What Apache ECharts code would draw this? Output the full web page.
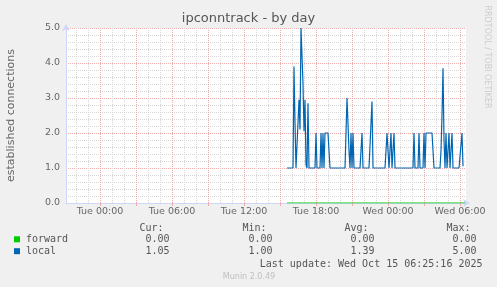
<!DOCTYPE html>
<html><head><meta charset="utf-8">
<script src="https://cdn.jsdelivr.net/npm/echarts@6/dist/echarts.min.js"></script>
<style>html,body{margin:0;padding:0;background:#f0f0f0;}#c{width:497px;height:287px;}</style>
</head><body><div id="c"></div>
<script>
// ---- data ----
const chartTitle = 'ipconntrack - by day';
const yAxisTitle = 'established connections';
const watermark = 'RRDTOOL / TOBI OETIKER';
const footer = 'Munin 2.0.49';
const lastUpdate = 'Last update: Wed Oct 15 06:25:16 2025';

// x positions are 5-minute slots counted from Tue 00:00
const xMin = -34, xMax = 366;
const xLabelSlots = [0, 72, 144, 216, 288, 360];
const xLabels = ['Tue 00:00', 'Tue 06:00', 'Tue 12:00', 'Tue 18:00', 'Wed 00:00', 'Wed 06:00'];
const majorXSlots = [0, 36, 72, 108, 144, 180, 216, 252, 288, 324, 360];
const minorXSlots = [-24, -12, 12, 24, 48, 60, 84, 96, 120, 132, 156, 168, 192, 204, 228, 240, 264, 276, 300, 312, 336, 348];
const yMin = 0, yMax = 5;

const seriesStart = 187;
const localValues = [
  1, 1, 1, 1, 1, 1, 1, 3.9, 2.3, 1, 1, 1, 2.95, 2.1, 5, 5, 3.4, 2.05, 2.95, 1.1,
  1, 2.85, 1, 1, 1, 1, 1, 1, 1, 2, 1, 1, 1, 1, 2, 1, 2, 1, 2, 2,
  2, 2, 2, 1, 1, 1, 1, 1, 1, 1, 1, 1, 1, 1, 1, 1, 1, 1, 1, 2,
  3, 3, 1.5, 1, 2, 1, 2, 1, 1, 1, 1, 1, 1, 1, 1, 2, 1, 1, 1, 1,
  1, 1, 1, 1, 1, 2.9, 1, 1, 1, 1, 1, 1, 1, 1, 1, 1, 1, 1, 1, 1,
  2, 2, 1, 1, 2, 1, 1, 2, 1, 1, 1, 1, 1, 1, 1, 1, 1, 1, 1, 1,
  1, 1, 1, 1, 1, 1, 1, 2, 1, 1, 1, 1, 2, 1, 1, 1, 1, 2, 1, 2,
  2, 2, 2, 2, 2, 2, 2, 1, 1, 1, 1, 1, 1, 1, 1.5, 2.5, 3.85, 1.8, 1, 2,
  1, 1, 2, 1, 1, 2, 1, 1, 1, 1, 1, 1, 1, 1, 1, 2, 1.05
];
const forwardValues = [
  0, 0, 0, 0, 0, 0, 0, 0, 0, 0, 0, 0, 0, 0, 0, 0, 0, 0, 0, 0,
  0, 0, 0, 0, 0, 0, 0, 0, 0, 0, 0, 0, 0, 0, 0, 0, 0, 0, 0, 0,
  0, 0, 0, 0, 0, 0, 0, 0, 0, 0, 0, 0, 0, 0, 0, 0, 0, 0, 0, 0,
  0, 0, 0, 0, 0, 0, 0, 0, 0, 0, 0, 0, 0, 0, 0, 0, 0, 0, 0, 0,
  0, 0, 0, 0, 0, 0, 0, 0, 0, 0, 0, 0, 0, 0, 0, 0, 0, 0, 0, 0,
  0, 0, 0, 0, 0, 0, 0, 0, 0, 0, 0, 0, 0, 0, 0, 0, 0, 0, 0, 0,
  0, 0, 0, 0, 0, 0, 0, 0, 0, 0, 0, 0, 0, 0, 0, 0, 0, 0, 0, 0,
  0, 0, 0, 0, 0, 0, 0, 0, 0, 0, 0, 0, 0, 0, 0, 0, 0, 0, 0, 0,
  0, 0, 0, 0, 0, 0, 0, 0, 0, 0, 0, 0, 0, 0, 0, 0, 0, 0, 0
];

const legendNames = ['forward', 'local'];
const legendColors = ['#00cc00', '#0066b3'];
const statHeaders = ['Cur:', 'Min:', 'Avg:', 'Max:'];
const curValues = ['0.00', '1.05'];
const minValues = ['0.00', '1.00'];
const avgValues = ['0.00', '1.39'];
const maxValues = ['0.00', '5.00'];

// ---- styles / layout ----
const MAJOR = '#efacac', MINOR = '#d6d6d6', AXIS = '#cfd6f8', FONT = '#666';
const mono = '"DejaVu Sans Mono", monospace';
const sans = '"DejaVu Sans", sans-serif';
const statRight = [163.5, 266.5, 368.5, 470.5];
const valRight = [169.5, 272.5, 374.5, 476.5];
const rowY = [239.3, 251.2];

const toPairs = (vals) => vals.map((v, i) => [seriesStart + i, v]);

const graphics = [
  { type: 'text', x: 248.5, y: 18.5, style: { text: chartTitle, fill: '#555', font: '13px ' + sans, align: 'center', verticalAlign: 'middle' } },
  { type: 'text', x: 11, y: 115.5, rotation: Math.PI / 2, style: { text: yAxisTitle, fill: FONT, font: '11px ' + sans, align: 'center', verticalAlign: 'middle' } },
  { type: 'text', x: 487.5, y: 57, rotation: -Math.PI / 2, style: { text: watermark, fill: '#cccccc', font: '8px ' + sans, align: 'center', verticalAlign: 'middle' } },
  { type: 'text', x: 249, y: 276.5, style: { text: footer, fill: '#c0c0c0', font: '8px ' + sans, align: 'center', verticalAlign: 'middle' } },
  { type: 'text', x: 482.5, y: 264, style: { text: lastUpdate, fill: '#555', font: '10px ' + mono, align: 'right', verticalAlign: 'middle' } }
];
statHeaders.forEach((h, i) => graphics.push({ type: 'text', x: statRight[i], y: 228.3, style: { text: h, fill: '#555', font: '10px ' + mono, align: 'right', verticalAlign: 'middle' } }));
legendNames.forEach((n, r) => {
  graphics.push({ type: 'rect', shape: { x: 14, y: rowY[r] - 3, width: 6, height: 6 }, style: { fill: legendColors[r] } });
  graphics.push({ type: 'text', x: 26, y: rowY[r], style: { text: n, fill: '#555', font: '10px ' + mono, align: 'left', verticalAlign: 'middle' } });
  [curValues, minValues, avgValues, maxValues].forEach((arr, c) => {
    graphics.push({ type: 'text', x: valRight[c], y: rowY[r], style: { text: arr[r], fill: '#555', font: '10px ' + mono, align: 'right', verticalAlign: 'middle' } });
  });
});

const gridLines = minorXSlots.map(v => ({ xAxis: v, lineStyle: { color: MINOR, type: 'dotted', width: 1 } }))
  .concat(majorXSlots.map(v => ({ xAxis: v, lineStyle: { color: MAJOR, type: 'dotted', width: 1 } })));

const chart = echarts.init(document.getElementById('c'), null, { renderer: 'canvas' });
chart.setOption({
  backgroundColor: '#f0f0f0',
  animation: false,
  grid: { left: 66, right: 31, top: 28, bottom: 84, show: true, backgroundColor: '#ffffff', borderWidth: 0, containLabel: false, outerBoundsMode: 'none' },
  xAxis: {
    type: 'value', min: xMin, max: xMax,
    axisLine: { show: true, onZero: false, lineStyle: { color: AXIS, width: 1 }, symbol: ['none', 'arrow'], symbolSize: [6, 7], symbolOffset: [0, 4] },
    axisTick: { show: true, customValues: majorXSlots, length: 3, lineStyle: { color: MAJOR } },
    axisLabel: { customValues: xLabelSlots, formatter: v => { const k = xLabelSlots.indexOf(v); return k >= 0 ? xLabels[k] : ''; }, color: FONT, fontSize: 9.5, fontFamily: 'DejaVu Sans', margin: 4 },
    splitLine: { show: false }
  },
  yAxis: {
    type: 'value', min: yMin, max: yMax, interval: 1,
    axisLine: { show: true, onZero: false, lineStyle: { color: AXIS, width: 1 }, symbol: ['none', 'arrow'], symbolSize: [6, 7], symbolOffset: [0, 4] },
    axisTick: { show: false },
    axisLabel: { color: FONT, fontSize: 9.5, fontFamily: 'DejaVu Sans', margin: 6, formatter: v => v.toFixed(1) },
    splitLine: { show: true, lineStyle: { color: MAJOR, type: 'dotted', width: 1 } },
    minorTick: { show: false, splitNumber: 5 },
    minorSplitLine: { show: true, lineStyle: { color: MINOR, type: 'dotted', width: 1 } }
  },
  series: [
    { name: 'grid', type: 'line', data: [], z: 1, silent: true,
      markLine: { z: 1, silent: true, symbol: 'none', symbolSize: 0, label: { show: false }, emphasis: { disabled: true }, animation: false, data: gridLines } },
    { name: legendNames[0], type: 'line', data: toPairs(forwardValues), showSymbol: false, symbol: 'none', z: 3,
      lineStyle: { color: legendColors[0], width: 1 }, itemStyle: { color: legendColors[0] }, emphasis: { disabled: true } },
    { name: legendNames[1], type: 'line', data: toPairs(localValues), showSymbol: false, symbol: 'none', z: 4,
      lineStyle: { color: legendColors[1], width: 1.2 }, itemStyle: { color: legendColors[1] }, emphasis: { disabled: true } }
  ],
  graphic: graphics
});
</script></body></html>
